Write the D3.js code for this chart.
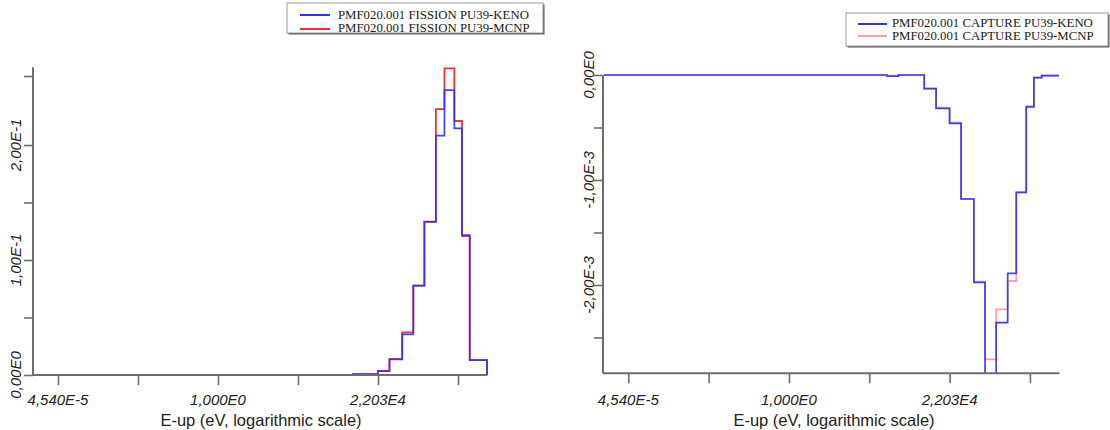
<!DOCTYPE html>
<html><head><meta charset="utf-8">
<script src="https://cdn.jsdelivr.net/npm/d3@7"></script>
<style>
html,body{margin:0;padding:0;background:#fff;}
svg{display:block;}
</style></head>
<body>
<svg id="c" width="1110" height="430"></svg>
<script>
// ---- data ----
const energyEdges = [1e-5, 454, 920, 4540, 9500, 22030, 45000, 1.0e5, 2.0e5, 4.0e5, 8.2e5, 1.4e6, 2.6e6, 4.2e6, 6.8e6, 2.0e7];
const fissionKeno = [0, 0, 0, 0.0008, 0.0008, 0.0035, 0.0135, 0.0354, 0.0777, 0.1333, 0.2081, 0.2478, 0.2145, 0.1217, 0.0130];
const fissionMcnp = [0, 0, 0, 0.0008, 0.0008, 0.0035, 0.0141, 0.0371, 0.0777, 0.1333, 0.2313, 0.2667, 0.2209, 0.1209, 0.0130];
const captureKeno = [0, -0.00001, 0, -0.000130, -0.000317, -0.000460, -0.001181, -0.001975, -0.003000, -0.002359, -0.001889, -0.001117, -0.000302, -0.000025, -0.000005];
const captureMcnp = [0, -0.00001, 0, -0.000130, -0.000311, -0.000454, -0.001181, -0.001968, -0.002708, -0.002232, -0.001962, -0.001117, -0.000308, -0.000025, -0.000005];
const xTickValues = [4.540e-5, 6.738e-3, 1.000, 148.4, 2.203e4, 3.269e6];
const xTickLabels = ["4,540E-5", "", "1,000E0", "", "2,203E4", ""];
const fissionTicks = [0, 0.05, 0.10, 0.15, 0.20, 0.26];
const fissionTickLabels = ["0,00E0", "", "1,00E-1", "", "2,00E-1", ""];
const captureTicks = [0, -0.0005, -0.001, -0.0015, -0.002, -0.0025];
const captureTickLabels = ["0,00E0", "", "-1,00E-3", "", "-2,00E-3", ""];
const fissionLegend = ["PMF020.001 FISSION PU39-KENO", "PMF020.001 FISSION PU39-MCNP"];
const captureLegend = ["PMF020.001 CAPTURE PU39-KENO", "PMF020.001 CAPTURE PU39-MCNP"];
const xTitle = "E-up (eV, logarithmic scale)";

const svg = d3.select("#c");
const AX = "#6e6e6e";
const BLUE = "#3030ff", RED = "#ff2e2e", PINK = "#ffa0a8";

function panel(o) {
  const g = svg.append("g");
  const x = d3.scaleLog().domain([energyEdges[0], energyEdges[energyEdges.length-1]]).range(o.xr);
  const y = d3.scaleLinear().domain(o.yd).range(o.yr);
  const clipId = o.id + "clip";
  svg.append("defs").append("clipPath").attr("id", clipId)
    .append("rect").attr("x", o.xr[0]).attr("y", o.yr[1]-5).attr("width", o.xr[1]-o.xr[0]+3).attr("height", o.yr[0]-o.yr[1]+5);
  const line = d3.line().x(d => x(d[0])).y(d => y(d[1])).curve(d3.curveStepAfter);
  function pts(vals, endZero) {
    const p = vals.map((v,i) => [energyEdges[i], v]);
    p.push([energyEdges[energyEdges.length-1], vals[vals.length-1]]);
    if (endZero) p.push([energyEdges[energyEdges.length-1], 0]);
    return p;
  }
  const lg = g.append("g").attr("clip-path", `url(#${clipId})`);
  lg.append("path").attr("d", line(pts(o.mcnp, o.endZero))).attr("fill","none")
    .attr("stroke", o.red).attr("stroke-width", 1.8);
  lg.append("path").attr("d", line(pts(o.keno, o.endZero))).attr("fill","none")
    .attr("stroke", BLUE).attr("stroke-width", 1.7).attr("stroke-opacity", 0.92);

  // axes
  const xa = g.append("g").attr("transform", `translate(0,${o.xAxisY})`)
    .call(d3.axisBottom(x).tickValues(xTickValues).tickSize(10).tickSizeOuter(0).tickFormat(""));
  const ya = g.append("g").attr("transform", `translate(${o.yAxisX},0)`)
    .call(d3.axisLeft(y).tickValues(o.yTicks).tickSize(9).tickSizeOuter(0).tickFormat(""));
  [xa, ya].forEach(a => {
    a.select(".domain").remove();
    a.selectAll("line").attr("stroke", AX).attr("stroke-width", 1.6);
  });
  g.append("line").attr("x1", o.yAxisX).attr("x2", o.xr[1]+0.5).attr("y1", o.xAxisY).attr("y2", o.xAxisY)
    .attr("stroke", AX).attr("stroke-width", 2);
  g.append("line").attr("x1", o.yAxisX).attr("x2", o.yAxisX).attr("y1", o.yTop).attr("y2", o.xAxisY)
    .attr("stroke", AX).attr("stroke-width", 2);

  // tick labels
  xTickValues.forEach((v,i) => {
    if (!xTickLabels[i]) return;
    g.append("text").attr("x", x(v)).attr("y", 405).attr("text-anchor","middle")
      .attr("font-family","Liberation Sans, Arial, sans-serif").attr("font-style","italic")
      .attr("font-size", 15).attr("fill","#222").text(xTickLabels[i]);
  });
  o.yTicks.forEach((v,i) => {
    if (!o.yLabels[i]) return;
    g.append("text").attr("transform", `translate(${o.yLabelX},${y(v)}) rotate(-90)`)
      .attr("text-anchor","middle")
      .attr("font-family","Liberation Sans, Arial, sans-serif").attr("font-style","italic")
      .attr("font-size", 15).attr("fill","#222").text(o.yLabels[i]);
  });
  g.append("text").attr("x", o.titleX).attr("y", 426).attr("text-anchor","middle")
    .attr("font-family","Liberation Sans, Arial, sans-serif").attr("font-size", 16.5)
    .attr("fill","#222").text(xTitle);

  // legend
  const L = o.legend;
  g.append("rect").attr("x", L.x+1.5).attr("y", L.y+1.5).attr("width", L.w).attr("height", L.h)
    .attr("fill","#555");
  g.append("rect").attr("x", L.x).attr("y", L.y).attr("width", L.w).attr("height", L.h)
    .attr("fill","#fff").attr("stroke","#999").attr("stroke-width",1);
  [BLUE, o.red].forEach((c,i) => {
    g.append("line").attr("x1", L.lx0).attr("x2", L.lx1).attr("y1", L.ly[i]).attr("y2", L.ly[i])
      .attr("stroke", c).attr("stroke-width", 2);
    g.append("text").attr("x", L.tx).attr("y", L.ty[i])
      .attr("font-family","Liberation Serif, Times New Roman, serif").attr("font-size", 12.8)
      .attr("fill","#1a1a1a").text(o.legendText[i]);
  });
}

panel({
  id: "f", xr: [33.8, 487], yd: [0, 0.2676], yr: [375, 67.3],
  xAxisY: 375, yAxisX: 33, yTop: 67.3, yTicks: fissionTicks, yLabels: fissionTickLabels,
  yLabelX: 21, titleX: 261, keno: fissionKeno, mcnp: fissionMcnp, red: RED, endZero: true,
  legend: {x: 287, y: 3, w: 256, h: 30, lx0: 300, lx1: 330, ly: [15, 29], tx: 338, ty: [18.8, 31.8]},
  legendText: fissionLegend
});
panel({
  id: "c", xr: [604, 1059], yd: [-0.002841, 0], yr: [373.3, 75],
  xAxisY: 373.3, yAxisX: 603, yTop: 75, yTicks: captureTicks, yLabels: captureTickLabels,
  yLabelX: 594, titleX: 834, keno: captureKeno, mcnp: captureMcnp, red: PINK, endZero: false,
  legend: {x: 846, y: 13, w: 262, h: 33, lx0: 858, lx1: 887, ly: [24, 36], tx: 892, ty: [27.4, 40.4]},
  legendText: captureLegend
});
</script>
</body></html>
